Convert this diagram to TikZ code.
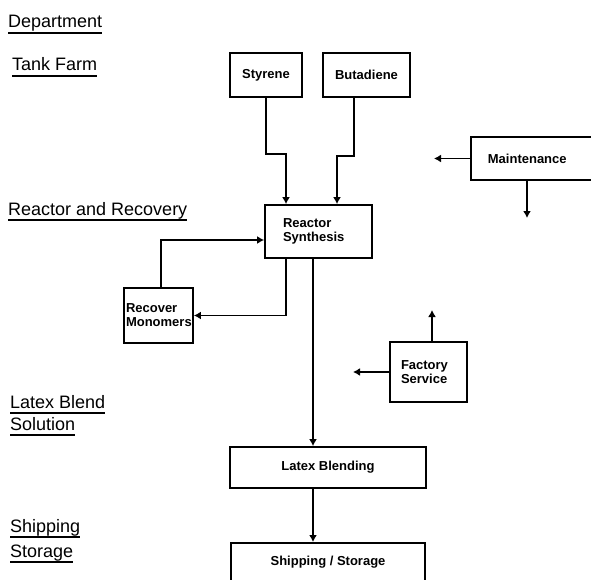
\documentclass[tikz,border=0pt]{standalone}
\usepackage{fontspec}
\setmainfont{Liberation Sans}
\usetikzlibrary{arrows.meta}

\begin{document}
\begin{tikzpicture}[x=1pt,y=-1pt,
        box/.style={draw,line width=1.8pt,inner sep=0pt,font=\fontsize{13}{14}\selectfont\bfseries},
        dept/.style={anchor=base west,inner sep=0pt,font=\fontsize{18}{22}\selectfont},
        ul/.style={line width=1.8pt},
        flow/.style={line width=1.8pt,-{Latex[length=7pt,width=8pt]}}]
        \useasboundingbox (0,0) rectangle (591,580);
        \node[dept] (lbldept) at (8,28) {Department};
        \node[dept] (lbltank) at (12,71) {Tank Farm};
        \node[dept] (lblreact) at (8,215) {Reactor and Recovery};
        \node[dept] (lbllatex) at (10,408) {Latex Blend};
        \node[dept] (lblsol) at (10,430) {Solution};
        \node[dept] (lblship) at (10,532) {Shipping};
        \node[dept] (lblstor) at (10,557) {Storage};
        \foreach \lbl in {lbldept,lbltank,lblreact,lbllatex,lblsol,lblship,lblstor}
            \draw[ul] ([yshift=-5pt]\lbl.base west) -- ([yshift=-5pt]\lbl.base east);
        \node[box,minimum width=72pt,minimum height=44pt] (styrene) at (266,75) {Styrene};
        \node[box,minimum width=87pt,minimum height=44pt] (butadiene) at (366.5,75) {Butadiene};
        \node[box,minimum height=53pt,inner xsep=18pt,text width=71pt,align=left] (reactor) at (318.5,231.5) {Reactor\\Synthesis};
        \node[box,anchor=west,minimum height=43pt,inner xsep=17pt,text width=120pt,align=left] (maint) at (470,158.5) {Maintenance};
        \node[box,minimum height=55pt,inner xsep=2pt,text width=65pt,align=left] (recover) at (158.5,315.5) {Recover\\Monomers};
        \node[box,minimum height=60pt,inner xsep=11pt,text width=55pt,align=left] (factory) at (428.5,372) {Factory\\Service};
        \node[box,minimum width=196pt,minimum height=41pt] (latex) at (328,467.5) {Latex Blending};
        \node[box,anchor=north,minimum width=194pt,inner ysep=13pt,text height=10pt,text depth=25pt] (ship) at (328,542) {Shipping / Storage};
        \coordinate (maintleft) at (434,158.5);
        \coordinate (maintdown) at (527,218);
        \coordinate (factup) at (432,310);
        \coordinate (factleft) at (353,372);
        \draw[flow] (styrene.south) -- ++(0,56) -| ([xshift=-32.5pt]reactor.north);
        \draw[flow] ([xshift=-12.5pt]butadiene.south) -- ++(0,58) -| ([xshift=18.5pt]reactor.north);
        \draw[flow] ([xshift=-32.5pt]reactor.south) |- (recover.east);
        \draw[flow] ([xshift=2.5pt]recover.north) |- ([yshift=-8.5pt]reactor.west);
        \draw[flow] ([xshift=-5.5pt]reactor.south) -- ([xshift=-15pt]latex.north);
        \draw[flow] ([xshift=-15pt]latex.south) -- ([xshift=-15pt]ship.north);
        \draw[flow] (maint.west) -- (maintleft);
        \draw[flow] (maintdown |- maint.south) -- (maintdown);
        \draw[flow] (factup |- factory.north) -- (factup);
        \draw[flow] (factory.west) -- (factleft);
    \end{tikzpicture}
\end{document}
